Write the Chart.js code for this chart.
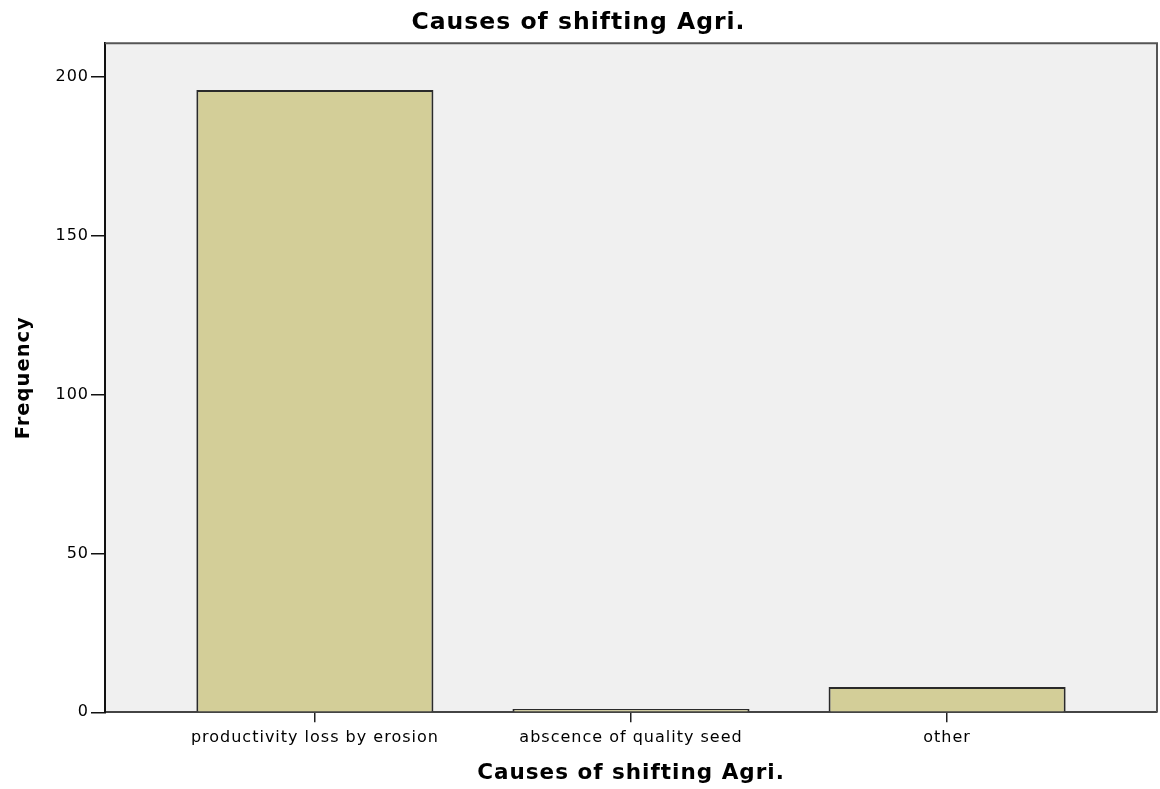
<!DOCTYPE html>
<html>
<head>
<meta charset="utf-8">
<script src="https://cdn.jsdelivr.net/npm/chart.js@4/dist/chart.umd.min.js"></script>
<style>
  html, body { margin: 0; padding: 0; background: #fff; }
  #wrap { width: 1160px; height: 789px; }
</style>
</head>
<body>
<div id="wrap"><canvas id="causesChart"></canvas></div>
<script>
// data
const categories = ['productivity loss by erosion', 'abscence of quality seed', 'other'];
const frequencies = [196, 1, 8];
const yTicks = [0, 50, 100, 150, 200];
const yMax = 210.7;

const chartTitle = 'Causes of shifting Agri.';
const xTitle = 'Causes of shifting Agri.';
const yTitle = 'Frequency';

// SPSS-like plot frame and wide text spacing
const spssLook = {
    id: 'spssLook',
    beforeUpdate(chart) {
        chart.ctx.letterSpacing = '1px';
    },
    beforeDraw(chart) {
        const ctx = chart.ctx;
        const a = chart.chartArea;
        ctx.letterSpacing = '1px';
        ctx.save();
        ctx.fillStyle = '#f0f0f0';
        ctx.fillRect(a.left, a.top, a.right - a.left, a.bottom - a.top);
        ctx.restore();
    },
    afterDraw(chart) {
        const ctx = chart.ctx;
        const a = chart.chartArea;
        ctx.save();
        ctx.strokeStyle = '#555';
        ctx.lineWidth = 2;
        ctx.beginPath();
        ctx.moveTo(a.left, a.top);
        ctx.lineTo(a.right, a.top);
        ctx.lineTo(a.right, a.bottom);
        ctx.stroke();
        ctx.restore();
    }
};

document.addEventListener('DOMContentLoaded', function() {
    const ctx = document.getElementById('causesChart').getContext('2d');
    new Chart(ctx, {
        type: 'bar',
        data: {
            datasets: [{
                label: yTitle,
                data: frequencies.map((v, i) => ({ x: i, y: v })),
                backgroundColor: '#d3ce98',
                borderColor: '#2a2a2a',
                borderWidth: 2,
                barPercentage: 0.75,
                categoryPercentage: 1
            }]
        },
        options: {
            responsive: true,
            maintainAspectRatio: false,
            animation: false,
            layout: { padding: { left: 0, right: 3, top: 0, bottom: 0 } },
            plugins: {
                legend: { display: false },
                tooltip: { enabled: false },
                title: {
                    display: true,
                    text: chartTitle,
                    color: '#000',
                    font: { family: 'DejaVu Sans', size: 23.5, weight: 'bold' },
                    padding: { top: 9, bottom: 6 }
                }
            },
            scales: {
                x: {
                    type: 'linear',
                    offset: false,
                    min: -0.664,
                    max: 2.664,
                    afterBuildTicks: function(scale) {
                        scale.ticks = categories.map((c, i) => ({ value: i }));
                    },
                    afterFit: function(scale) {
                        scale.height = 76.7;
                    },
                    ticks: {
                        autoSkip: false,
                        maxRotation: 0,
                        padding: 6,
                        color: '#000',
                        font: { family: 'DejaVu Sans', size: 16 },
                        callback: function(value) {
                            return categories[value];
                        }
                    },
                    grid: {
                        offset: false,
                        drawOnChartArea: false,
                        drawTicks: true,
                        tickLength: 10,
                        color: '#222',
                        lineWidth: 1.5
                    },
                    border: { display: true, color: '#444', width: 2 },
                    title: {
                        display: true,
                        text: xTitle,
                        color: '#000',
                        font: { family: 'DejaVu Sans', size: 21.5, weight: 'bold' },
                        padding: { top: 0, bottom: 3 }
                    }
                },
                y: {
                    min: 0,
                    max: yMax,
                    afterBuildTicks: function(scale) {
                        scale.ticks = yTicks.map(v => ({ value: v }));
                    },
                    afterFit: function(scale) {
                        scale.width = 105;
                    },
                    ticks: {
                        padding: 2,
                        color: '#000',
                        font: { family: 'DejaVu Sans', size: 16 }
                    },
                    grid: {
                        drawOnChartArea: false,
                        drawTicks: true,
                        tickLength: 14,
                        color: '#111',
                        lineWidth: 1.5
                    },
                    border: { display: true, color: '#111', width: 2 },
                    title: {
                        display: true,
                        text: yTitle,
                        color: '#000',
                        font: { family: 'DejaVu Sans', size: 19.5, weight: 'bold' },
                        padding: { top: 12, bottom: 0 }
                    }
                }
            }
        },
        plugins: [spssLook]
    });
});
</script>
</body>
</html>
